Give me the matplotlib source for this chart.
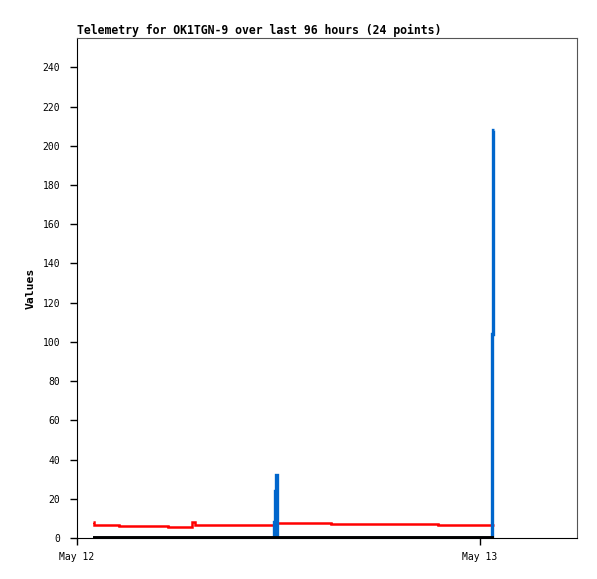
import pandas as pd
import matplotlib
matplotlib.use('Agg')
import matplotlib.pyplot as plt
import matplotlib.dates as mdates

# telemetry channels (step data)
red_times = ['2024-05-12 00:57', '2024-05-12 01:02', '2024-05-12 02:31', '2024-05-12 05:26',
             '2024-05-12 06:52', '2024-05-12 07:02', '2024-05-12 11:51', '2024-05-12 15:07',
             '2024-05-12 21:31', '2024-05-13 00:51']
red_values = [8.0, 6.8, 6.3, 5.8, 8.0, 6.8, 7.9, 7.3, 6.8, 6.8]

blue_times = ['2024-05-12 00:57', '2024-05-12 11:44', '2024-05-12 11:47', '2024-05-12 11:51',
              '2024-05-12 11:56', '2024-05-13 00:42', '2024-05-13 00:46', '2024-05-13 00:50']
blue_values = [0, 8, 24, 32, 0, 104, 208, 208]

black_times = ['2024-05-12 00:57', '2024-05-13 00:51']
black_values = [0, 0]

x_start = '2024-05-12 00:00'
x_end = '2024-05-13 05:47'

mono = 'DejaVu Sans Mono'

fig = plt.figure(figsize=(5.97, 5.79), dpi=100)
ax = fig.add_axes([0.129, 0.0708, 0.8375, 0.8636])

line_kw = dict(drawstyle='steps-post', solid_capstyle='butt', solid_joinstyle='miter')
ax.plot(pd.to_datetime(red_times), red_values, color='#ff0000', lw=1.8, zorder=2, **line_kw)
ax.plot(pd.to_datetime(blue_times), blue_values, color='#0066cc', lw=2.4, zorder=3, **line_kw)
ax.plot(pd.to_datetime(black_times), black_values, color='black', lw=2.8, zorder=4, **line_kw)

ax.set_xlim(pd.Timestamp(x_start), pd.Timestamp(x_end))
ax.set_ylim(0, 255)
ax.set_yticks(range(0, 241, 20))
ax.xaxis.set_major_locator(mdates.DayLocator())
ax.xaxis.set_major_formatter(mdates.DateFormatter('%b %d'))

ax.tick_params(direction='out', length=5, width=1, labelsize=7, pad=5)
ax.tick_params(axis='y', pad=7)
for lbl in ax.get_xticklabels() + ax.get_yticklabels():
    lbl.set_family(mono)

for side in ['top', 'right']:
    ax.spines[side].set_color('#555555')
for side in ['left', 'bottom']:
    ax.spines[side].set_color('black')

ax.set_title('Telemetry for OK1TGN-9 over last 96 hours (24 points)', loc='left',
             fontsize=8.3, fontweight='bold', family=mono, pad=3)
ax.set_ylabel('Values', fontsize=8.2, fontweight='bold', family=mono, labelpad=5)

plt.savefig('out.png', dpi=100)
